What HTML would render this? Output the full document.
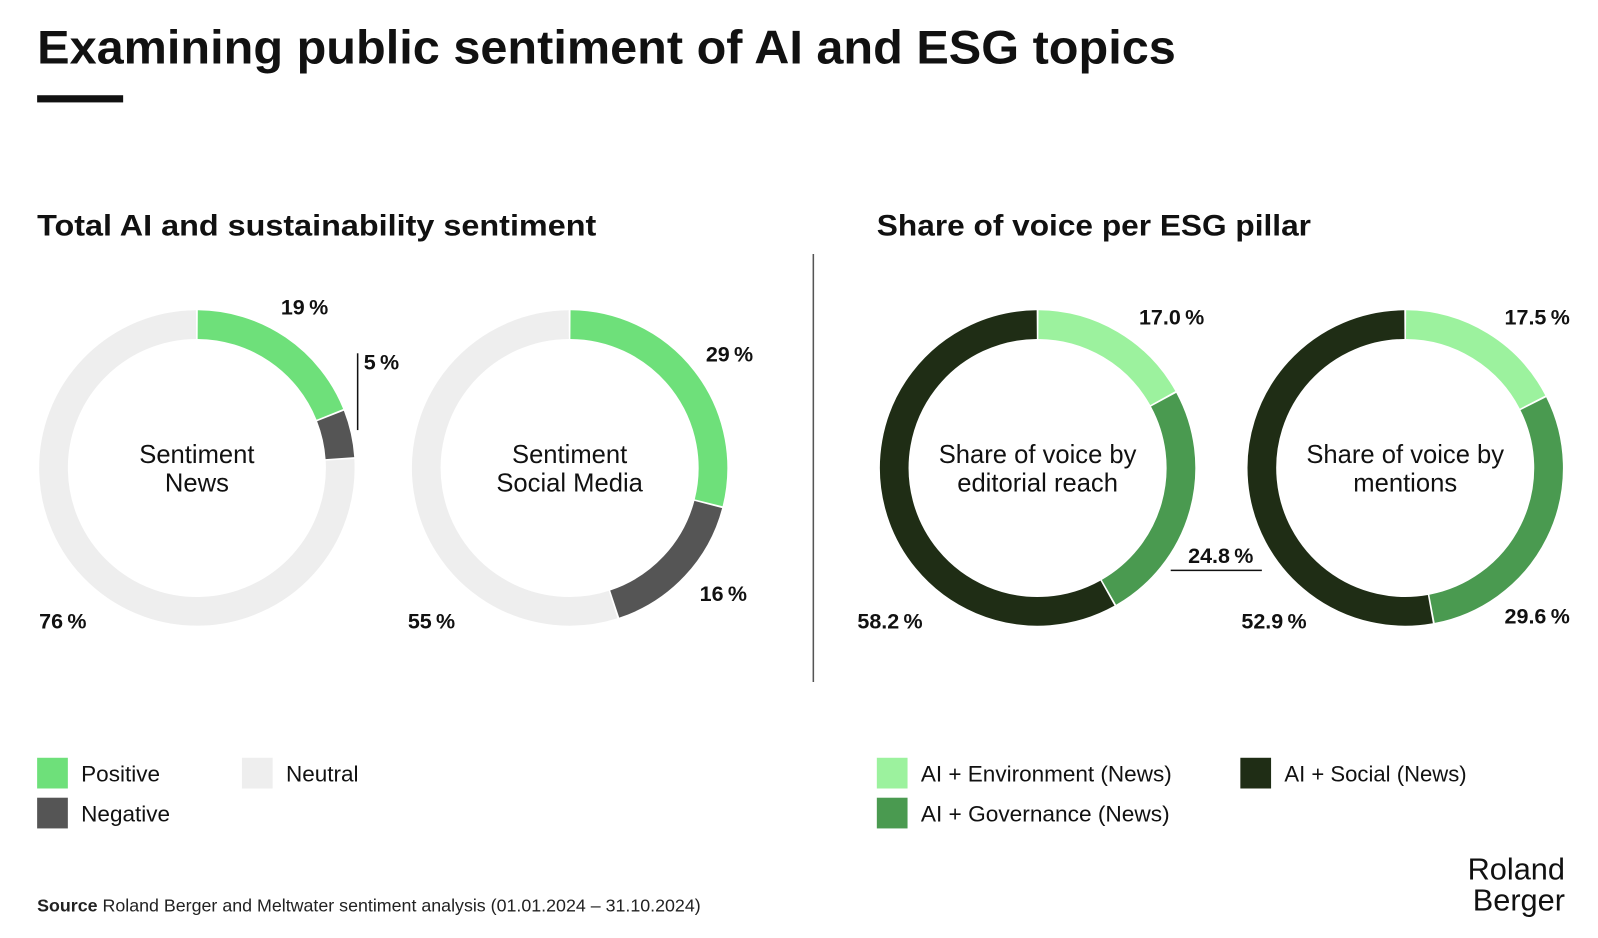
<!DOCTYPE html>
<html><head><meta charset="utf-8"><style>
html,body{margin:0;padding:0;background:#fff;}
svg{display:block;font-family:"Liberation Sans",sans-serif;}
</style></head><body>
<svg id="chart" width="1598" height="938" viewBox="0 0 1560 916" xmlns="http://www.w3.org/2000/svg">
<text x="36" y="62" font-size="46" font-weight="bold" fill="#111" textLength="1112" lengthAdjust="spacingAndGlyphs">Examining public sentiment of AI and ESG topics</text>
<rect x="36" y="93" width="84" height="7" fill="#111"/>
<text x="36" y="230" font-size="29" font-weight="bold" fill="#111" textLength="546" lengthAdjust="spacingAndGlyphs">Total AI and sustainability sentiment</text>
<text x="856" y="230" font-size="29" font-weight="bold" fill="#111" textLength="424" lengthAdjust="spacingAndGlyphs">Share of voice per ESG pillar</text>
<line x1="794" y1="248" x2="794" y2="666" stroke="#555" stroke-width="1.5"/>
<line x1="349" y1="345" x2="349" y2="420" stroke="#111" stroke-width="1.5"/>
<line x1="1143" y1="557" x2="1232" y2="557" stroke="#111" stroke-width="1.5"/>
<g id="donuts"></g>
<g>
<rect x="36" y="740" width="30" height="30" fill="#6ee07a"/>
<text x="79" y="763" font-size="22" fill="#111">Positive</text>
<rect x="236" y="740" width="30" height="30" fill="#eeeeee"/>
<text x="279" y="763" font-size="22" fill="#111">Neutral</text>
<rect x="36" y="779" width="30" height="30" fill="#555"/>
<text x="79" y="802" font-size="22" fill="#111">Negative</text>
</g>
<g>
<rect x="856" y="740" width="30" height="30" fill="#9cf29e"/>
<text x="899" y="763" font-size="22" fill="#111" textLength="245" lengthAdjust="spacingAndGlyphs">AI + Environment (News)</text>
<rect x="1211" y="740" width="30" height="30" fill="#1f2d15"/>
<text x="1254" y="763" font-size="22" fill="#111" textLength="178" lengthAdjust="spacingAndGlyphs">AI + Social (News)</text>
<rect x="856" y="779" width="30" height="30" fill="#4a9a50"/>
<text x="899" y="802" font-size="22" fill="#111" textLength="243" lengthAdjust="spacingAndGlyphs">AI + Governance (News)</text>
</g>
<text x="36" y="890" font-size="17" fill="#222" textLength="648" lengthAdjust="spacingAndGlyphs"><tspan font-weight="bold">Source</tspan> Roland Berger and Meltwater sentiment analysis (01.01.2024 – 31.10.2024)</text>
<text x="1528" y="859" font-size="30" fill="#111" text-anchor="end">Roland</text>
<text x="1528" y="889" font-size="30" fill="#111" text-anchor="end">Berger</text>
</svg>
<script>
const newsValues = [19, 5, 76];
const socialValues = [29, 16, 55];
const editorialValues = [17.0, 24.8, 58.2];
const mentionsValues = [17.5, 29.6, 52.9];
const sentimentColors = ["#6ee07a", "#555555", "#eeeeee"];
const esgColors = ["#9cf29e", "#4a9a50", "#1f2d15"];
const NS = "http://www.w3.org/2000/svg";
const root = document.getElementById("donuts");
function arcPath(cx, cy, r, a0, a1) {
  const p = a => [cx + r * Math.sin(a), cy - r * Math.cos(a)];
  const [x0, y0] = p(a0), [x1, y1] = p(a1);
  const large = (a1 - a0) > Math.PI ? 1 : 0;
  return `M${x0} ${y0} A${r} ${r} 0 ${large} 1 ${x1} ${y1}`;
}
function fmt(v, dec) { return (dec ? v.toFixed(1) : String(Math.round(v))) + "\u2009%"; }
function donut(name, cx, cy, values, colors, centerLines, labelPos, dec) {
  const g = document.createElementNS(NS, "g");
  
  
  const total = values.reduce((a, b) => a + b, 0);
  let acc = 0;
  const gap = 0.006;
  values.forEach((v, i) => {
    const a0 = acc / total * 2 * Math.PI;
    acc += v;
    const a1 = acc / total * 2 * Math.PI;
    const path = document.createElementNS(NS, "path");
    path.setAttribute("d", arcPath(cx, cy, 140, a0 + gap, a1 - gap));
    path.setAttribute("fill", "none");
    path.setAttribute("stroke", colors[i]);
    path.setAttribute("stroke-width", "28");
    
    
    g.appendChild(path);
    const t = document.createElementNS(NS, "text");
    t.setAttribute("x", labelPos[i][0]);
    t.setAttribute("y", labelPos[i][1]);
    t.setAttribute("font-size", "21");
    t.setAttribute("font-weight", "bold");
    t.setAttribute("fill", "#111");
    t.textContent = fmt(v, dec);
    
    
    g.appendChild(t);
  });
  centerLines.forEach((s, j) => {
    const t = document.createElementNS(NS, "text");
    t.setAttribute("x", cx);
    t.setAttribute("y", cy - 5 + j * 28);
    t.setAttribute("font-size", "25");
    t.setAttribute("text-anchor", "middle");
    t.setAttribute("fill", "#111");
    t.textContent = s;
    
    
    g.appendChild(t);
  });
  root.appendChild(g);
}
donut("donut-news", 192, 457, newsValues, sentimentColors, ["Sentiment", "News"], [[274, 307], [355, 361], [38, 614]], false);
donut("donut-social", 556, 457, socialValues, sentimentColors, ["Sentiment", "Social Media"], [[689, 353], [683, 587], [398, 614]], false);
donut("donut-editorial", 1013, 457, editorialValues, esgColors, ["Share of voice by", "editorial reach"], [[1112, 317], [1160, 550], [837, 614]], true);
donut("donut-mentions", 1372, 457, mentionsValues, esgColors, ["Share of voice by", "mentions"], [[1469, 317], [1469, 609], [1212, 614]], true);
</script>
</body></html>
